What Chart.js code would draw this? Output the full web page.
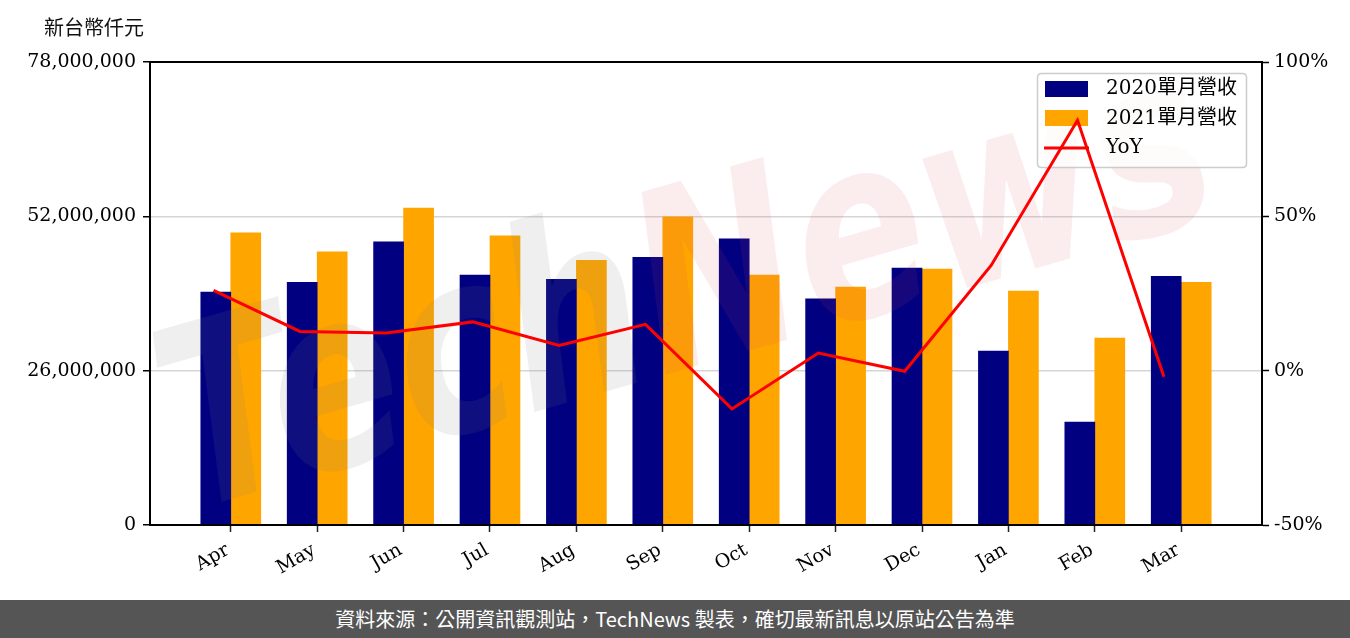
<!DOCTYPE html>
<html><head><meta charset="utf-8">
<script src="https://cdn.jsdelivr.net/npm/chart.js@4/dist/chart.umd.min.js"></script>
<style>
body{margin:0;background:#fff;width:1350px;height:638px;overflow:hidden;position:relative}
#title{position:absolute;left:44px;top:14px;font:20px "Noto Sans CJK TC";color:#111;line-height:26px}
#footer{position:absolute;left:0;top:600px;width:1350px;height:38px;background:#555555;color:#fff;font:20px "Noto Sans CJK TC";text-align:center;line-height:38px}
canvas{position:absolute;left:0;top:0}
</style></head><body>
<canvas id="c" width="1350" height="600"></canvas>
<div id="title">新台幣仟元</div>
<div id="footer">資料來源：公開資訊觀測站，TechNews 製表，確切最新訊息以原站公告為準</div>
<script>
const months = ['Apr','May','Jun','Jul','Aug','Sep','Oct','Nov','Dec','Jan','Feb','Mar'];
const rev2020 = [39250000, 40900000, 47700000, 42100000, 41400000, 45100000, 48200000, 38100000, 43300000, 29300000, 17350000, 41900000];
const rev2021 = [49200000, 46000000, 53400000, 48700000, 44600000, 51900000, 42100000, 40100000, 43100000, 39400000, 31500000, 40900000];
const yoy = [26.0, 12.7, 12.2, 15.8, 8.2, 15.0, -12.4, 5.7, -0.2, 34.1, 81.1, -2.0];
const leftTicks = [0, 26000000, 52000000, 78000000];
const rightTicks = [-50, 0, 50, 100];
const seriesNames = ['2020單月營收', '2021單月營收', 'YoY'];
const colors = ['#000080', '#FFA500', '#FF0000'];

const FONT = '"DejaVu Serif", "Noto Sans CJK TC"';

function drawWatermark(ctx){
  ctx.save();
  ctx.translate(690, 300);
  ctx.rotate(-16*Math.PI/180);
  ctx.font = 'bold italic 250px "DejaVu Sans"';
  ctx.textBaseline = 'middle';
  const w1 = ctx.measureText('Tech').width, w2 = ctx.measureText('News').width;
  const total = w1 + w2;
  ctx.scale(1080/total, 1);
  ctx.fillStyle = 'rgba(120,120,120,0.12)';
  ctx.fillText('Tech', -total/2, 0);
  ctx.fillStyle = 'rgba(215,70,85,0.10)';
  ctx.fillText('News', -total/2 + w1, 0);
  ctx.restore();
}

function drawLegend(ctx){
  ctx.save();
  const x=1037.5, y=73.5, w=209, h=94, r=4;
  ctx.beginPath();
  ctx.moveTo(x+r,y); ctx.lineTo(x+w-r,y); ctx.quadraticCurveTo(x+w,y,x+w,y+r);
  ctx.lineTo(x+w,y+h-r); ctx.quadraticCurveTo(x+w,y+h,x+w-r,y+h);
  ctx.lineTo(x+r,y+h); ctx.quadraticCurveTo(x,y+h,x,y+h-r);
  ctx.lineTo(x,y+r); ctx.quadraticCurveTo(x,y,x+r,y); ctx.closePath();
  ctx.fillStyle='rgba(255,255,255,0.8)'; ctx.fill();
  ctx.strokeStyle='#cccccc'; ctx.lineWidth=1.5; ctx.stroke();
  ctx.fillStyle=colors[0]; ctx.fillRect(1045,81,43,16);
  ctx.fillStyle=colors[1]; ctx.fillRect(1045,110,43,16);
  ctx.strokeStyle=colors[2]; ctx.lineWidth=3;
  ctx.beginPath(); ctx.moveTo(1044,148); ctx.lineTo(1089,148); ctx.stroke();
  ctx.fillStyle='#000'; ctx.font='20px '+FONT; ctx.textBaseline='middle';
  ctx.fillText(seriesNames[0],1106,89);
  ctx.fillText(seriesNames[1],1106,119);
  ctx.fillText(seriesNames[2],1106,148);
  ctx.restore();
}

const overlay = {
  id:'overlay',
  beforeDatasetDraw(chart, args){
    if(args.index === 2){
      drawWatermark(chart.ctx);
      drawLegend(chart.ctx);
    }
  },
  afterDraw(chart){
    const a = chart.chartArea, ctx = chart.ctx;
    ctx.save();
    ctx.strokeStyle='#000'; ctx.lineWidth=2;
    ctx.strokeRect(a.left, a.top, a.right-a.left, a.bottom-a.top);
    ctx.restore();
  }
};

new Chart(document.getElementById('c'), {
  type:'bar',
  data:{
    datasets:[
      {label:seriesNames[0], data:rev2020.map((v,i)=>({x:i,y:v})), backgroundColor:colors[0], barThickness:30, yAxisID:'y', order:1},
      {label:seriesNames[1], data:rev2021.map((v,i)=>({x:i,y:v})), backgroundColor:colors[1], barThickness:30, yAxisID:'y', order:1},
      {type:'line', label:seriesNames[2], data:yoy.map((v,i)=>({x:i-0.2,y:v})), borderColor:colors[2], borderWidth:3, pointRadius:0, tension:0, yAxisID:'y1', order:0, fill:false}
    ]
  },
  options:{
    responsive:false, animation:false, devicePixelRatio:1,
    layout:{padding:{top:62,left:0,right:0,bottom:0}},
    plugins:{legend:{display:false}, tooltip:{enabled:false}, title:{display:false}},
    scales:{
      x:{type:'linear', min:-0.935, max:11.935, offset:false,
        afterBuildTicks(s){ s.ticks = months.map((m,i)=>({value:i})); },
        afterFit(s){ s.height = 75; },
        grid:{offset:false, drawOnChartArea:false, drawTicks:true, tickLength:7, tickColor:'#222', tickWidth:1.5},
        border:{display:true, color:'#000', width:2},
        ticks:{autoSkip:false, minRotation:30, maxRotation:30, padding:7, labelOffset:-3, color:'#000', font:{family:FONT, size:19},
          callback:(v)=>months[v]}
      },
      y:{type:'linear', position:'left', min:0, max:78000000,
        afterBuildTicks(s){ s.ticks = leftTicks.map(v=>({value:v})); },
        afterFit(s){ s.width = 150; },
        grid:{color:'#d5d5d5', lineWidth:1.5, tickColor:'#000', tickLength:7, tickWidth:1.5},
        border:{display:true, color:'#000', width:2},
        ticks:{padding:7, color:'#000', font:{family:FONT, size:19}, callback:(v)=>v.toLocaleString('en-US')}
      },
      y1:{type:'linear', position:'right', min:-50, max:100,
        afterBuildTicks(s){ s.ticks = rightTicks.map(v=>({value:v})); },
        afterFit(s){ s.width = 88; },
        grid:{drawOnChartArea:false, tickColor:'#000', tickLength:7, tickWidth:1.5},
        border:{display:true, color:'#000', width:2},
        ticks:{padding:5, color:'#000', font:{family:FONT, size:19}, callback:(v)=>v+'%'}
      }
    }
  },
  plugins:[overlay]
});
</script>
</body></html>
